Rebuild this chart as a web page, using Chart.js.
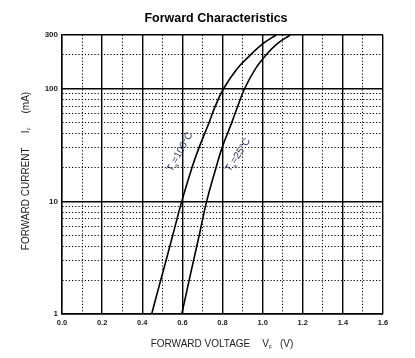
<!DOCTYPE html>
<html>
<head>
<meta charset="utf-8">
<script src="https://cdn.jsdelivr.net/npm/chart.js@4/dist/chart.umd.min.js"></script>
<style>
  html, body { margin: 0; padding: 0; background: #fff; }
  canvas { display: block; }
</style>
</head>
<body>
<canvas id="graf" width="415" height="358"></canvas>
<script>
// Datos (V en voltios, I en mA)
let corriente = [1, 2, 3, 5, 10, 20, 30, 50, 70, 100, 150, 200, 250, 300];
let voltaje100 = [0.447, 0.492, 0.519, 0.552, 0.597, 0.648, 0.683, 0.733, 0.764, 0.805, 0.872, 0.94, 1.0, 1.067];
let voltaje25 = [0.597, 0.634, 0.656, 0.684, 0.721, 0.768, 0.798, 0.846, 0.876, 0.91, 0.964, 1.018, 1.072, 1.137];

let ticksY = [1, 2, 3, 4, 5, 6, 7, 8, 9, 10, 20, 30, 40, 50, 60, 70, 80, 90, 100, 200, 300];
let etiquetasY = [1, 10, 100, 300];
let titulo = "Forward Characteristics";

function puntos(xs, ys){
  let res = [];
  for (let i = 0; i < xs.length; i++){
    res.push({x: xs[i], y: ys[i]});
  }
  return res;
}

// dibuja texto con subindice, centrado en (x,y)
function textoSub(ctx, x, y, ang, partes){
  ctx.save();
  ctx.translate(x, y);
  ctx.rotate(ang);
  let ancho = 0;
  partes.forEach(p => {
    ctx.font = p.font;
    p.w = ctx.measureText(p.t).width + (p.gap || 0);
    ancho += p.w;
  });
  let cx = -ancho / 2;
  ctx.textBaseline = 'middle';
  ctx.textAlign = 'left';
  partes.forEach(p => {
    ctx.font = p.font;
    ctx.fillText(p.t, cx, p.dy || 0);
    cx += p.w;
  });
  ctx.restore();
}

let textos = {
  id: 'textos',
  afterDraw(chart){
    let ctx = chart.ctx;
    ctx.save();
    ctx.fillStyle = '#000';
    ctx.font = 'bold 12.5px "Liberation Sans", Arial';
    ctx.textAlign = 'center';
    ctx.textBaseline = 'middle';
    ctx.fillText(titulo, 216, 19);

    ctx.fillStyle = '#222';
    let n = '10px "Liberation Sans", Arial';
    let s = '5px "Liberation Sans", Arial';
    // titulo eje x
    textoSub(ctx, 222, 344, 0, [
      {t: 'FORWARD VOLTAGE', font: n, gap: 12},
      {t: 'V', font: n},
      {t: 'F', font: s, dy: 4, gap: 8},
      {t: '(V)', font: n}
    ]);
    // titulo eje y
    textoSub(ctx, 26, 171, -Math.PI / 2, [
      {t: 'FORWARD CURRENT', font: n, gap: 14},
      {t: 'I', font: n},
      {t: 'F', font: s, dy: 4, gap: 14},
      {t: '(mA)', font: n}
    ]);
    // etiquetas de curvas
    ctx.fillStyle = '#2a3560';
    let e = '10px "Liberation Sans", Arial';
    let es = '6px "Liberation Sans", Arial';
    textoSub(ctx, 180, 152, -61 * Math.PI / 180, [
      {t: 'T', font: e},
      {t: 'a', font: es, dy: 4},
      {t: '=100°C', font: e}
    ]);
    textoSub(ctx, 238, 155, -57 * Math.PI / 180, [
      {t: 'T', font: e},
      {t: 'a', font: es, dy: 4},
      {t: '=25°C', font: e}
    ]);
    ctx.restore();
  }
};

function esMayorY(v){
  return etiquetasY.indexOf(v) >= 0;
}
function esMayorX(v){
  return Math.round(v * 10) % 2 === 0;
}

let ctx = document.getElementById('graf').getContext('2d');
let graf = new Chart(ctx, {
  type: 'scatter',
  data: {
    datasets: [
      {
        label: 'Ta=100°C',
        data: puntos(voltaje100, corriente),
        showLine: true,
        borderColor: '#000',
        borderWidth: 1.6,
        pointRadius: 0,
        tension: 0.4
      },
      {
        label: 'Ta=25°C',
        data: puntos(voltaje25, corriente),
        showLine: true,
        borderColor: '#000',
        borderWidth: 1.6,
        pointRadius: 0,
        tension: 0.4
      }
    ]
  },
  options: {
    responsive: false,
    animation: false,
    layout: { padding: { top: 35, right: 32, left: 0, bottom: 0 } },
    plugins: {
      legend: { display: false },
      tooltip: { enabled: false }
    },
    scales: {
      x: {
        type: 'linear',
        min: 0,
        max: 1.6,
        afterFit(scale){ scale.height = 44; },
        ticks: {
          stepSize: 0.1,
          autoSkip: false,
          maxRotation: 0,
          padding: 4,
          color: '#222',
          font: { family: '"Liberation Sans", Arial', size: 7.5, weight: 'bold' },
          callback: v => esMayorX(v) ? v.toFixed(1) : ''
        },
        grid: {
          drawTicks: false,
          color: '#000',
          lineWidth: c => (c.tick && !esMayorX(c.tick.value)) ? 1 : 1.4
        },
        border: {
          display: true,
          color: '#000',
          width: 1.4,
          dash: c => (c.tick && !esMayorX(c.tick.value)) ? [1.2, 2] : []
        }
      },
      y: {
        type: 'logarithmic',
        min: 1,
        max: 300,
        afterFit(scale){ scale.width = 62; },
        afterBuildTicks(scale){
          scale.ticks = ticksY.map(v => ({value: v}));
        },
        ticks: {
          autoSkip: false,
          padding: 4,
          color: '#222',
          font: { family: '"Liberation Sans", Arial', size: 8, weight: 'bold' },
          callback: v => esMayorY(v) ? String(v) : ''
        },
        grid: {
          drawTicks: false,
          color: '#000',
          lineWidth: c => (c.tick && !esMayorY(c.tick.value)) ? 1 : 1.4
        },
        border: {
          display: true,
          color: '#000',
          width: 1.4,
          dash: c => (c.tick && !esMayorY(c.tick.value)) ? [1.2, 2] : []
        }
      }
    }
  },
  plugins: [textos]
});
</script>
</body>
</html>
